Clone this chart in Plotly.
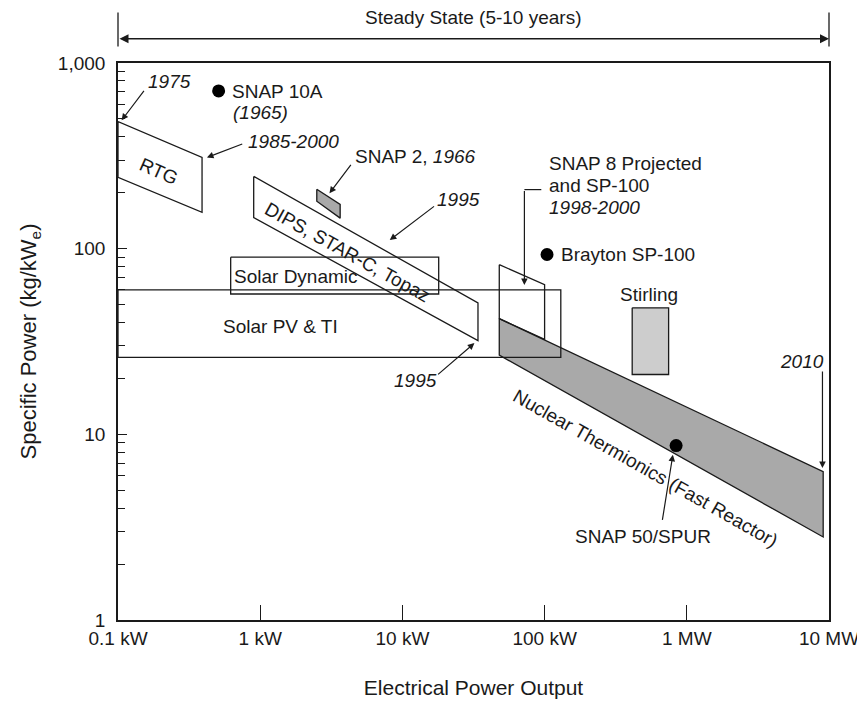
import numpy as np
import plotly.graph_objects as go

# ---------------- data (kW, kg/kWe) ----------------
rtg_kw = [0.1, 0.39, 0.39, 0.1]
rtg_sp = [484, 310, 157, 242]

snap2_kw = [2.5, 3.65, 3.65, 2.5]
snap2_sp = [209, 173, 146, 180]

dips_kw = [0.9, 34, 34, 0.9]
dips_sp = [245, 51, 32, 147]

solar_dyn_kw = [0.62, 18, 18, 0.62]
solar_dyn_sp = [90, 90, 57, 57]

solar_pv_kw = [0.1, 130, 130, 0.1]
solar_pv_sp = [60, 60, 26, 26]

snap8_kw = [48, 100, 100, 48]
snap8_sp = [82, 64, 32.5, 42]

nuclear_kw = [48, 9100, 9100, 48]
nuclear_sp = [42, 6.3, 2.8, 26.7]

stirling_kw = [413, 745, 745, 413]
stirling_sp = [48, 48, 21, 21]

point_names = ["SNAP 10A", "Brayton SP-100", "SNAP 50/SPUR"]
point_kw = [0.51, 104, 841]
point_sp = [707, 93, 8.7]

x_tickvals = [0.1, 1, 10, 100, 1000, 10000]
x_ticktext = ["0.1 kW", "1 kW", "10 kW", "100 kW", "1 MW", "10 MW"]
y_tickvals = [1, 10, 100, 1000]
y_ticktext = ["1", "10", "100", "1,000"]

INK = "#1a1a1a"
FONT = "Liberation Sans, Arial, Helvetica, sans-serif"
FS = 19
FS_TITLE = 21

fig = go.Figure()


def poly(xs, ys, fill=None, width=1.3):
    fig.add_trace(go.Scatter(
        x=list(xs) + [xs[0]], y=list(ys) + [ys[0]], mode="lines",
        line=dict(color=INK, width=width),
        fill="toself" if fill else None,
        fillcolor=fill if fill else None,
        hoverinfo="skip", showlegend=False))


poly(nuclear_kw, nuclear_sp, fill="#a9a9a9")
poly(solar_pv_kw, solar_pv_sp)
poly(solar_dyn_kw, solar_dyn_sp)
poly(snap8_kw, snap8_sp)
poly(rtg_kw, rtg_sp)
poly(dips_kw, dips_sp)
poly(snap2_kw, snap2_sp, fill="#a9a9a9")
poly(stirling_kw, stirling_sp, fill="#cdcdcd")

fig.add_trace(go.Scatter(
    x=point_kw, y=point_sp, mode="markers", text=point_names,
    marker=dict(size=13, color="black"), showlegend=False))

# leader line for SNAP 8 label
lead_kw = [94.8, 72.1]
lead_sp = [208, 208]
fig.add_trace(go.Scatter(x=lead_kw, y=lead_sp, mode="lines",
                         line=dict(color=INK, width=1.2),
                         hoverinfo="skip", showlegend=False))

L = np.log10
annotations = []


def label(text, x, y, xanchor="center", angle=0):
    annotations.append(dict(
        text=text, x=L(x), y=L(y), xref="x", yref="y", showarrow=False,
        xanchor=xanchor, yanchor="middle", textangle=angle,
        font=dict(family=FONT, size=FS, color=INK)))


def arrow(tail, tip):
    annotations.append(dict(
        text="", x=L(tip[0]), y=L(tip[1]), ax=L(tail[0]), ay=L(tail[1]),
        xref="x", yref="y", axref="x", ayref="y", showarrow=True,
        arrowhead=2, arrowsize=1.1, arrowwidth=1.2, arrowcolor=INK,
        standoff=0, startstandoff=0))


label("<i>1975</i>", 0.229, 795)
arrow((0.155, 721), (0.106, 491))
label("<i>1985-2000</i>", 1.714, 378)
arrow((0.766, 369), (0.422, 310))
label("SNAP 10A", 0.61, 705, xanchor="left")
label("<i>(1965)</i>", 0.62, 543, xanchor="left")
label("RTG", 0.195, 261, angle=24)
label("SNAP 2, <i>1966</i>", 4.5, 314, xanchor="left")
arrow((4.42, 288), (3.07, 199))
label("DIPS, STAR-C, Topaz", 4.14, 95.7, angle=29)
label("<i>1995</i>", 24.9, 184.5)
arrow((17.1, 171.4), (8.15, 111.2))
label("<i>1995</i>", 12.3, 19.4)
arrow((17.4, 20.7), (32.1, 31.0))
label("Solar Dynamic", 0.63, 71.1, xanchor="left")
label("Solar PV &amp; TI", 0.53, 38.1, xanchor="left")
label("SNAP 8 Projected", 104, 288.4, xanchor="left")
label("and SP-100", 104, 219.3, xanchor="left")
label("<i>1998-2000</i>", 104, 167.1, xanchor="left")
arrow((72.1, 208), (72.1, 63.7))
label("Brayton SP-100", 127, 92.9, xanchor="left")
label("Stirling", 541, 56.9)
label("SNAP 50/SPUR", 490, 2.82)
arrow((671, 3.40), (798, 7.76))
label("<i>2010</i>", 6486, 24.8)
arrow((8995, 22.2), (8995, 6.58))
label("Nuclear Thermionics (Fast Reactor)", 515, 6.53, angle=29.5)

# Steady state banner above the plot
annotations.append(dict(
    text="Steady State (5-10 years)", x=0.5, y=1.0815, xref="paper", yref="paper",
    showarrow=False, xanchor="center", yanchor="middle",
    font=dict(family=FONT, size=FS, color=INK)))
annotations.append(dict(
    text="", x=1, y=1.0435, xref="paper", yref="paper",
    ax=-711, ay=0, axref="pixel", ayref="pixel", showarrow=True,
    arrowhead=2, startarrowhead=2, arrowside="end+start",
    arrowsize=1.2, startarrowsize=1.2, arrowwidth=1.5, arrowcolor=INK,
    standoff=0, startstandoff=0))

shapes = [
    dict(type="line", xref="paper", yref="paper", x0=0, x1=0, y0=1.0296, y1=1.0905,
         line=dict(color=INK, width=1.3)),
    dict(type="line", xref="paper", yref="paper", x0=1, x1=1, y0=1.0296, y1=1.0905,
         line=dict(color=INK, width=1.3)),
]

minor_y = [m * 10 ** e for e in range(0, 3) for m in range(2, 10)]

# the page adds an 8px body margin, so the figure is 8px smaller and shifted
fig.update_layout(
    width=857, height=696,
    margin=dict(l=109.5, r=36, t=54.5, b=83.5, autoexpand=False),
    paper_bgcolor="white", plot_bgcolor="white",
    font=dict(family=FONT, size=FS, color=INK),
    annotations=annotations, shapes=shapes, showlegend=False,
    xaxis=dict(
        type="log", range=[-1, 4], tickmode="array", automargin=False,
        tickvals=x_tickvals, ticktext=x_ticktext,
        ticks="inside", ticklen=15, tickwidth=1.3, tickcolor=INK,
        showline=True, mirror=True, linecolor=INK, linewidth=1.6,
        showgrid=False, zeroline=False,
        tickfont=dict(family=FONT, size=FS, color=INK),
        title=dict(text="Electrical Power Output", standoff=33,
                   font=dict(family=FONT, size=FS_TITLE, color=INK)),
    ),
    yaxis=dict(
        type="log", range=[0, 3], tickmode="array", automargin=False,
        tickvals=y_tickvals, ticktext=y_ticktext,
        ticks="inside", ticklen=9, tickwidth=1.2, tickcolor=INK,
        ticklabelstandoff=7,
        minor=dict(tickmode="array", tickvals=minor_y, ticks="inside",
                   ticklen=7, tickwidth=1, tickcolor=INK, showgrid=False),
        showline=True, mirror=True, linecolor=INK, linewidth=1.6,
        showgrid=False, zeroline=False,
        tickfont=dict(family=FONT, size=FS, color=INK),
        title=dict(text="Specific Power (kg/kW<sub>e</sub>)", standoff=15,
                   font=dict(family=FONT, size=22, color=INK)),
    ),
)

fig.write_html("out.html")
